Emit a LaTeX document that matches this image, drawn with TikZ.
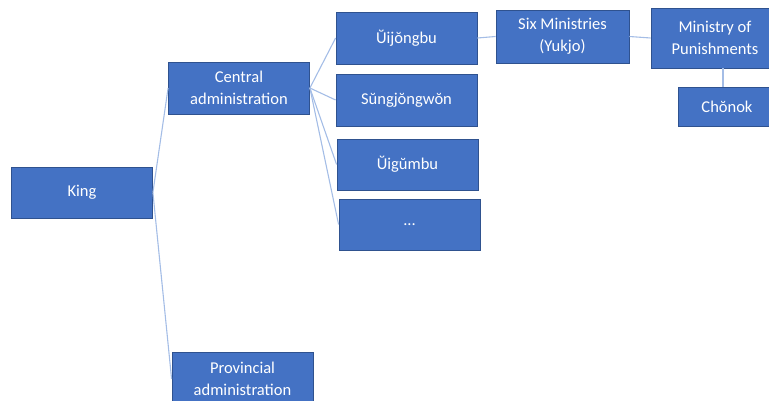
\documentclass[tikz,border=0pt]{standalone}
\usepackage{fontspec}
\setmainfont{Carlito}
\usetikzlibrary{positioning}

\definecolor{boxfill}{HTML}{4472C4}
\definecolor{boxline}{HTML}{2F528F}
\definecolor{linkcol}{HTML}{A4BDE6}

\begin{document}
\begin{tikzpicture}[x=1pt, y=-1pt,
  orgbox/.style={draw=boxline, line width=0.8pt, fill=boxfill, text=white,
    align=center, inner sep=2pt, minimum width=141pt, minimum height=52pt,
    font=\fontsize{16.5}{22}\selectfont},
  link/.style={draw=linkcol, line width=1.1pt}]

% --- CANVAS ---
\useasboundingbox (0,0) rectangle (769,401);
\clip (0,0) rectangle (769,401);

% --- BOXES ---
\node[orgbox, minimum height=51pt] (king) at (82,192.5) {King};
\node[orgbox] (central) at (239,88) {Central\\administration};
\node[orgbox, minimum height=54pt] (provincial) at (242.5,379) {Provincial\\administration};

\node[orgbox] (uijongbu) at (406.5,38) {Ŭijŏngbu};
\node[orgbox] (sungjongwon) at (406.5,100) {Sŭngjŏngwŏn};
\node[orgbox, minimum height=51pt] (uigumbu) at (407.5,164.5) {Ŭigŭmbu};
\node[orgbox, minimum height=51pt] (more) at (409.5,224.5) {...};

\node[orgbox, minimum width=133pt, minimum height=53pt] (yukjo) at (562.5,36.5) {Six Ministries\\(Yukjo)};
\node[orgbox, minimum width=128pt, minimum height=60pt] (punish) at (715,38) {Ministry of\\Punishments};
\node[orgbox, minimum width=98pt, minimum height=39pt] (chonok) at (727,106.5) {Chŏnok};

% --- CONNECTORS ---
\foreach \child in {central,provincial}
  \draw[link] (king.east) -- (\child.west);
\foreach \child in {uijongbu,sungjongwon,uigumbu,more}
  \draw[link] (central.east) -- (\child.west);
\draw[link] (uijongbu.east) -- (yukjo.west);
\draw[link] (yukjo.east) -- (punish.west);
\draw[link] ([xshift=-4pt]chonok.north) -- ([xshift=-4pt]chonok.north |- punish.south);

\end{tikzpicture}
\end{document}
